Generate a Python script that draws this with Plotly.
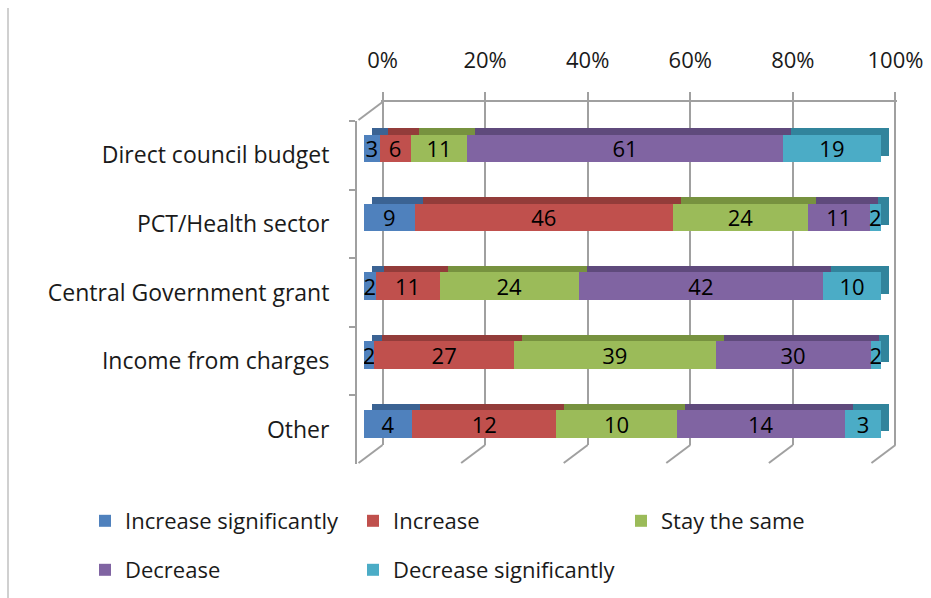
import plotly.graph_objects as go

W, H = 931, 598

categories = ["Direct council budget", "PCT/Health sector", "Central Government grant",
              "Income from charges", "Other"]
series_names = ["Increase significantly", "Increase", "Stay the same",
                "Decrease", "Decrease significantly"]
inc_sig = [3, 9, 2, 2, 4]
increase = [6, 46, 11, 27, 12]
same = [11, 24, 24, 39, 10]
decrease = [61, 11, 42, 30, 14]
dec_sig = [19, 2, 10, 2, 3]
series_values = [inc_sig, increase, same, decrease, dec_sig]

tick_vals = [0, 20, 40, 60, 80, 100]
tick_text = ["0%", "20%", "40%", "60%", "80%", "100%"]

colors = ["#4F81BD", "#C0504D", "#9BBB59", "#8064A2", "#4BACC6"]
dark_colors = ["#3B6393", "#933C3A", "#77923F", "#5F4A7C", "#31849C"]

FONT = "Open Sans"
FS = 23
FS_NUM = 22
FS_LEG = 22
TXT = "#1a1a1a"
GRID = "#a0a0a0"


def px(x):
    return x / W


def py(y):
    return 1 - y / H


GRID_DOMAIN = [px(381), px(897)]
GRID_RANGE = [-0.3, 100.3]


def grid_paper_x(t):
    # map a value on the back-wall x axis to paper coordinates
    d0, d1 = GRID_DOMAIN
    r0, r1 = GRID_RANGE
    return d0 + (t - r0) / (r1 - r0) * (d1 - d0)


fig = go.Figure()

# back wall (grid) subplot
fig.add_trace(go.Scatter(x=[50], y=[0.5], mode="markers", marker=dict(opacity=0),
                         showlegend=False, hoverinfo="skip", xaxis="x", yaxis="y"))

# extrusion (darker shifted copy)
for name, vals, dc in zip(series_names, series_values, dark_colors):
    fig.add_trace(go.Bar(x=vals, y=categories, orientation="h", name=name,
                         marker=dict(color=dc, line=dict(width=0)),
                         showlegend=False, hoverinfo="skip",
                         xaxis="x2", yaxis="y2"))

# front faces
for i, (name, vals, c) in enumerate(zip(series_names, series_values, colors)):
    fig.add_trace(go.Bar(x=vals, y=categories, orientation="h", name=name,
                         marker=dict(color=c, line=dict(width=0)),
                         text=[str(v) for v in vals], texttemplate="%{text}",
                         textposition="inside", insidetextanchor="middle",
                         textangle=0, constraintext="none",
                         textfont=dict(family=FONT, size=FS_NUM, color="black"),
                         legend="legend" if i < 3 else "legend2",
                         xaxis="x3", yaxis="y3"))

# category label axis subplot
fig.add_trace(go.Bar(x=[0] * len(categories), y=categories, orientation="h",
                     showlegend=False, hoverinfo="skip", marker=dict(opacity=0),
                     xaxis="x4", yaxis="y4"))

shapes = []
# floor diagonals
for t in tick_vals:
    shapes.append(dict(type="line", xref="paper", yref="paper",
                       xsizemode="pixel", xanchor=grid_paper_x(t), x0=0, x1=-24,
                       ysizemode="pixel", yanchor=py(445), y0=0, y1=-18,
                       line=dict(color=GRID, width=2)))
# top-left diagonal
shapes.append(dict(type="line", xref="paper", yref="paper",
                   xsizemode="pixel", xanchor=grid_paper_x(tick_vals[0]), x0=0, x1=-24,
                   ysizemode="pixel", yanchor=py(102), y0=0, y1=-18,
                   line=dict(color=GRID, width=2)))
# chart border (left)
shapes.append(dict(type="line", xref="paper", yref="paper",
                   x0=px(8), x1=px(8), y0=py(8), y1=0,
                   line=dict(color="#c0c0c0", width=1.5)))

legend_common = dict(orientation="h", xanchor="left", yanchor="middle",
                     entrywidth=223, entrywidthmode="pixels", itemwidth=30,
                     font=dict(family=FONT, size=FS_LEG, color=TXT),
                     traceorder="normal", bgcolor="rgba(0,0,0,0)")

fig.update_layout(
    width=W, height=H,
    margin=dict(l=0, r=0, t=0, b=0, pad=0, autoexpand=False),
    paper_bgcolor="white", plot_bgcolor="rgba(0,0,0,0)",
    barmode="stack", barnorm="percent", bargap=0.6,
    font=dict(family=FONT, size=FS, color=TXT),
    shapes=shapes,
    xaxis=dict(domain=GRID_DOMAIN, range=GRID_RANGE, side="top",
               anchor="y", tickvals=tick_vals, ticktext=tick_text,
               showgrid=True, gridcolor=GRID, gridwidth=2,
               showline=True, linecolor=GRID, linewidth=2,
               ticks="outside", ticklen=8, tickcolor=GRID, tickwidth=2,
               ticklabelstandoff=15, zeroline=False,
               tickfont=dict(family=FONT, size=FS_NUM, color=TXT),
               fixedrange=True),
    yaxis=dict(domain=[py(445), py(102)], range=[0, 1], visible=False,
               anchor="x", fixedrange=True),
    xaxis2=dict(domain=[px(372), px(889)], range=[0, 100], visible=False,
                anchor="y2", fixedrange=True),
    yaxis2=dict(domain=[py(452), py(107.5)], type="category",
                categoryarray=categories, autorange="reversed",
                visible=False, anchor="x2", fixedrange=True),
    xaxis3=dict(domain=[px(364), px(881)], range=[0, 100], visible=False,
                anchor="y3", fixedrange=True),
    yaxis3=dict(domain=[py(458.5), py(114)], type="category",
                categoryarray=categories, autorange="reversed",
                visible=False, anchor="x3", fixedrange=True),
    xaxis4=dict(domain=[px(357), px(881)], range=[0, 100], visible=False,
                anchor="y4", fixedrange=True),
    yaxis4=dict(domain=[py(464), py(121)], type="category",
                categoryarray=categories, autorange="reversed",
                anchor="x4", showline=True, linecolor=GRID, linewidth=2,
                ticks="outside", tickson="boundaries", ticklen=6,
                tickcolor=GRID, tickwidth=2, showgrid=False,
                ticklabelstandoff=21,
                tickfont=dict(family=FONT, size=FS, color=TXT),
                fixedrange=True),
    legend=dict(x=px(85), y=py(521), **legend_common),
    legend2=dict(x=px(85), y=py(570), **legend_common),
)

fig.write_html(
    "out.html",
    config={"displayModeBar": False},
    post_script="document.body.style.margin='0';document.body.style.overflow='hidden';",
)
